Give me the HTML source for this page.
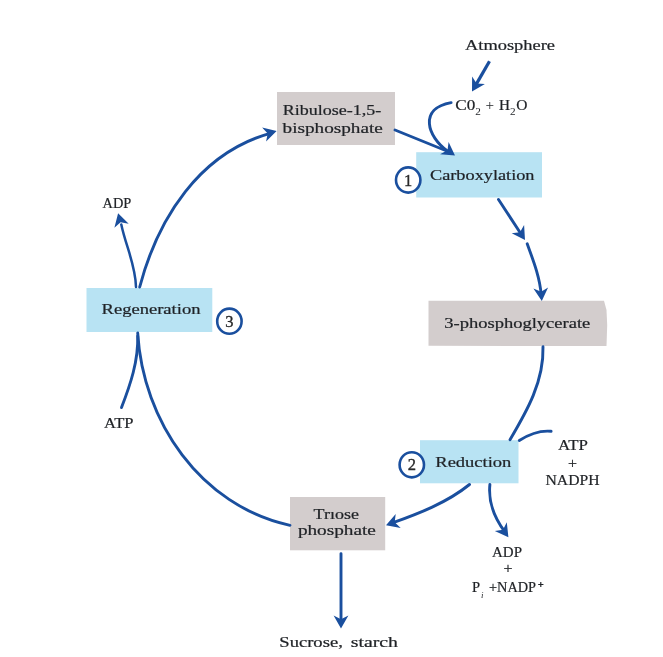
<!DOCTYPE html>
<html><head><meta charset="utf-8"><style>html,body{margin:0;padding:0;background:#fff;width:663px;height:657px;overflow:hidden}svg{display:block;filter:blur(0.3px)}</style></head>
<body><svg width="663" height="657" viewBox="0 0 663 657" font-family="'Liberation Serif', serif" font-size="14.5" fill="#1f2226" stroke-width="0.22">
<rect x="277" y="92" width="118" height="53" fill="#d3cdcd"/>
<rect x="416.2" y="152.2" width="125.80000000000001" height="45.30000000000001" fill="#b8e3f3"/>
<polygon points="428.5,300.8 604,300.7 606.5,310 607.2,325 606.5,346 428.5,345.8" fill="#d3cdcd"/>
<rect x="420" y="440.2" width="98.5" height="43.10000000000002" fill="#b8e3f3"/>
<rect x="290" y="497" width="95.19999999999999" height="53.299999999999955" fill="#d3cdcd"/>
<rect x="86.5" y="288" width="125.80000000000001" height="44" fill="#b8e3f3"/>
<path d="M489.5,61.2 L475.0,86.4" fill="none" stroke="#1a4f9e" stroke-width="3.2" stroke-linecap="butt"/><path d="M472.0,91.6 L472.1,76.6 L476.6,83.6 L484.9,84.0 Z" fill="#1a4f9e"/>
<path d="M451.1,102.6 C418.5,108.4 426.9,136.5 448.0,151.5" fill="none" stroke="#1a4f9e" stroke-width="2.9" stroke-linecap="round"/>
<path d="M455.0,155.6 L440.1,154.2 L447.5,150.3 L448.6,142.1 Z" fill="#1a4f9e"/>
<path d="M395.0,130.0 L448.0,151.5" fill="none" stroke="#1a4f9e" stroke-width="2.9" stroke-linecap="round"/>
<path d="M498.5,199.5 L521.7,235.0" fill="none" stroke="#1a4f9e" stroke-width="2.9" stroke-linecap="round"/><path d="M525.0,240.0 L511.7,233.2 L520.0,232.3 L524.1,225.1 Z" fill="#1a4f9e"/>
<path d="M527.2,243.8 C533.2,260.3 539.9,277.3 541.2,295.0" fill="none" stroke="#1a4f9e" stroke-width="2.9" stroke-linecap="round"/><path d="M541.8,301.0 L533.4,288.6 L541.1,291.8 L548.1,287.4 Z" fill="#1a4f9e"/>
<path d="M543.0,346.7 C544.0,381.3 527.0,411.0 510.0,439.7" fill="none" stroke="#1a4f9e" stroke-width="2.9" stroke-linecap="round"/>
<path d="M551.1,431.3 C539.7,430.2 528.7,434.5 519.3,440.5" fill="none" stroke="#1a4f9e" stroke-width="2.9" stroke-linecap="round"/>
<path d="M469.5,484.5 C446.7,502.9 418.8,513.5 391.6,523.2" fill="none" stroke="#1a4f9e" stroke-width="2.9" stroke-linecap="round"/><path d="M386.0,525.3 L395.7,513.9 L394.7,522.2 L400.7,527.9 Z" fill="#1a4f9e"/>
<path d="M489.9,484.5 C488.1,501.9 494.8,518.5 505.1,532.2" fill="none" stroke="#1a4f9e" stroke-width="2.9" stroke-linecap="round"/><path d="M508.4,537.2 L494.8,531.0 L503.0,529.8 L506.8,522.3 Z" fill="#1a4f9e"/>
<path d="M341.0,553.7 L341.0,622.4" fill="none" stroke="#1a4f9e" stroke-width="2.9" stroke-linecap="round"/><path d="M341.0,628.4 L333.6,615.4 L341.0,619.2 L348.4,615.4 Z" fill="#1a4f9e"/>
<path d="M290.0,525.3 C200.2,505.8 142.9,421.1 137.7,333.0" fill="none" stroke="#1a4f9e" stroke-width="2.9" stroke-linecap="round"/>
<path d="M121.5,407.6 C130.3,384.7 138.5,360.8 137.7,336.0" fill="none" stroke="#1a4f9e" stroke-width="2.9" stroke-linecap="round"/>
<path d="M139.7,287.0 C157.6,218.9 199.3,152.6 271.0,133.1" fill="none" stroke="#1a4f9e" stroke-width="2.9" stroke-linecap="round"/><path d="M276.6,131.0 L266.1,141.6 L267.7,133.5 L262.1,127.4 Z" fill="#1a4f9e"/>
<path d="M136.0,287.0 C135.7,265.2 125.6,245.6 121.3,224.5" fill="none" stroke="#1a4f9e" stroke-width="2.5" stroke-linecap="round"/>
<path d="M118.1,213.3 L128.7,223.8 L120.6,222.2 L114.4,227.8 Z" fill="#1a4f9e"/>
<ellipse cx="408.2" cy="180" rx="12.2" ry="12.6" fill="#fff" stroke="#1a4f9e" stroke-width="2.6"/><text x="408.2" y="185.6" text-anchor="middle" font-size="16.5" fill="#2a2a2a" stroke="#2a2a2a" stroke-width="0.35">1</text>
<ellipse cx="411.8" cy="464.8" rx="12.2" ry="12.6" fill="#fff" stroke="#1a4f9e" stroke-width="2.6"/><text x="411.8" y="470.40000000000003" text-anchor="middle" font-size="16.5" fill="#2a2a2a" stroke="#2a2a2a" stroke-width="0.35">2</text>
<ellipse cx="229.4" cy="321.2" rx="12.2" ry="12.6" fill="#fff" stroke="#1a4f9e" stroke-width="2.6"/><text x="229.4" y="326.8" text-anchor="middle" font-size="16.5" fill="#2a2a2a" stroke="#2a2a2a" stroke-width="0.35">3</text>
<text x="465" y="50.2" textLength="90" lengthAdjust="spacingAndGlyphs" stroke="#1f2226">Atmosphere</text>
<text x="282.7" y="115.3" textLength="98.5" lengthAdjust="spacingAndGlyphs" stroke="#1f2226">Ribulose-1,5-</text>
<text x="282.6" y="132.9" textLength="100.2" lengthAdjust="spacingAndGlyphs" stroke="#1f2226">bisphosphate</text>
<text x="430" y="179.7" textLength="104.5" lengthAdjust="spacingAndGlyphs" stroke="#1f2226">Carboxylation</text>
<text x="444.3" y="327.9" textLength="146" lengthAdjust="spacingAndGlyphs" stroke="#1f2226">3-phosphoglycerate</text>
<text x="435.3" y="467.1" textLength="76" lengthAdjust="spacingAndGlyphs" stroke="#1f2226">Reduction</text>
<text x="558" y="450" textLength="30" lengthAdjust="spacingAndGlyphs" stroke="#1f2226">ATP</text>
<text x="568" y="468" textLength="9" lengthAdjust="spacingAndGlyphs" stroke="#1f2226">+</text>
<text x="545.5" y="485.1" textLength="54" lengthAdjust="spacingAndGlyphs" stroke="#1f2226">NADPH</text>
<text x="313.6" y="519.2" textLength="45.3" lengthAdjust="spacingAndGlyphs" stroke="#1f2226">Tr&#305;ose</text>
<text x="297.9" y="534.9" textLength="78" lengthAdjust="spacingAndGlyphs" stroke="#1f2226">phosphate</text>
<text x="492" y="556.9" textLength="30" lengthAdjust="spacingAndGlyphs" stroke="#1f2226">ADP</text>
<text x="503.5" y="573" textLength="9" lengthAdjust="spacingAndGlyphs" stroke="#1f2226">+</text>
<text x="279.3" y="646.7" textLength="63.5" lengthAdjust="spacingAndGlyphs" stroke="#1f2226">Sucrose,</text>
<text x="350.8" y="646.7" textLength="47.2" lengthAdjust="spacingAndGlyphs" stroke="#1f2226">starch</text>
<text x="101.5" y="313.5" textLength="99" lengthAdjust="spacingAndGlyphs" stroke="#1f2226">Regeneration</text>
<text x="102.5" y="207.8" textLength="28.8" lengthAdjust="spacingAndGlyphs" stroke="#1f2226">ADP</text>
<text x="104" y="427.8" textLength="29.5" lengthAdjust="spacingAndGlyphs" stroke="#1f2226">ATP</text>
<text x="455.3" y="110.3" textLength="20" lengthAdjust="spacingAndGlyphs" stroke="#1f2226">C0</text><text x="475.2" y="115" font-size="9.5" textLength="5.6" lengthAdjust="spacingAndGlyphs">2</text><text x="485.4" y="110.3" textLength="8.6" lengthAdjust="spacingAndGlyphs">+</text><text x="499" y="110.3" textLength="11" lengthAdjust="spacingAndGlyphs" stroke="#1f2226">H</text><text x="510" y="115" font-size="9.5" textLength="5.6" lengthAdjust="spacingAndGlyphs">2</text><text x="516.2" y="110.3" textLength="11.2" lengthAdjust="spacingAndGlyphs" stroke="#1f2226">O</text>
<text x="472" y="592" stroke="#1f2226">P</text><text x="481" y="597.5" font-size="9" font-style="italic">i</text><text x="489" y="592" textLength="47" lengthAdjust="spacingAndGlyphs" stroke="#1f2226">+NADP</text><text x="538" y="587.5" font-size="10" stroke="#1f2226" stroke-width="0.5">+</text>
</svg></body></html>
